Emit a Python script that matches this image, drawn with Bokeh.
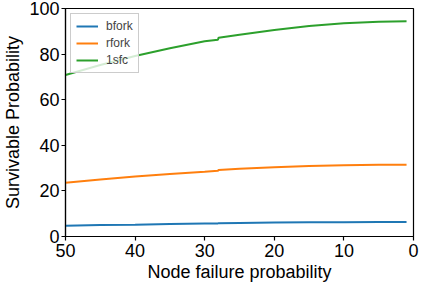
from bokeh.plotting import figure
from bokeh.models import Range1d, FixedTicker, Legend, LegendItem
from bokeh.embed import file_html
from bokeh.resources import INLINE

x = [50, 45, 40, 35, 30, 28.1, 28, 25, 20, 15, 10, 5, 1]
bfork = [4.7, 5.0, 5.2, 5.5, 5.7, 5.75, 5.85, 5.95, 6.1, 6.2, 6.3, 6.35, 6.4]
rfork = [23.6, 25.0, 26.3, 27.4, 28.4, 28.8, 29.2, 29.7, 30.4, 30.9, 31.3, 31.5, 31.5]
sfc1 = [70.8, 75.2, 79.2, 82.6, 85.6, 86.3, 87.2, 88.5, 90.6, 92.3, 93.5, 94.2, 94.4]
x_ticks = [50, 40, 30, 20, 10, 0]
y_ticks = [0, 20, 40, 60, 80, 100]

FONT = "Liberation Sans"

p = figure(frame_width=348, frame_height=228, output_backend="svg", toolbar_location=None,
           x_range=Range1d(50, 0), y_range=Range1d(0, 100))
p.min_border_top = 8
p.min_border_right = 8
p.min_border_left = 2
p.min_border_bottom = 2

p.xgrid.visible = False
p.ygrid.visible = False
p.outline_line_color = "black"
p.outline_line_width = 1.2
p.background_fill_color = "white"
p.border_fill_color = "white"

for ax in (p.xaxis[0], p.yaxis[0]):
    ax.major_label_text_font = FONT
    ax.major_label_text_font_size = "18px"
    ax.major_label_text_color = "black"
    ax.axis_label_text_font = FONT
    ax.axis_label_text_font_size = "18px"
    ax.axis_label_text_font_style = "normal"
    ax.axis_label_text_color = "black"
    ax.minor_tick_line_color = None
    ax.major_tick_out = 4
    ax.major_tick_in = 0
    ax.major_tick_line_color = "black"
    ax.axis_line_color = "black"
    ax.axis_line_width = 1.2
    ax.major_tick_line_width = 1.2

p.xaxis[0].ticker = FixedTicker(ticks=x_ticks)
p.yaxis[0].ticker = FixedTicker(ticks=y_ticks)
p.xaxis[0].axis_label = "Node failure probability"
p.yaxis[0].axis_label = "Survivable Probability"
p.xaxis[0].axis_label_standoff = 2
p.yaxis[0].axis_label_standoff = 3
p.xaxis[0].major_label_standoff = 3
p.yaxis[0].major_label_standoff = 2

r1 = p.line(x, bfork, line_color="#1f77b4", line_width=2)
r2 = p.line(x, rfork, line_color="#ff7f0e", line_width=2)
r3 = p.line(x, sfc1, line_color="#2ca02c", line_width=2)

legend = Legend(items=[LegendItem(label="bfork", renderers=[r1]),
                       LegendItem(label="rfork", renderers=[r2]),
                       LegendItem(label="1sfc", renderers=[r3])],
                location="top_left")
legend.label_text_font = FONT
legend.label_text_font_size = "12px"
legend.label_height = 14
legend.glyph_height = 14
legend.glyph_width = 22
legend.spacing = 3
legend.padding = 5
legend.margin = 5
legend.label_standoff = 8
legend.border_line_color = "#cccccc"
legend.border_line_alpha = 1
legend.background_fill_alpha = 0.8
p.add_layout(legend)

open("out.html", "w").write(file_html(p, INLINE))
